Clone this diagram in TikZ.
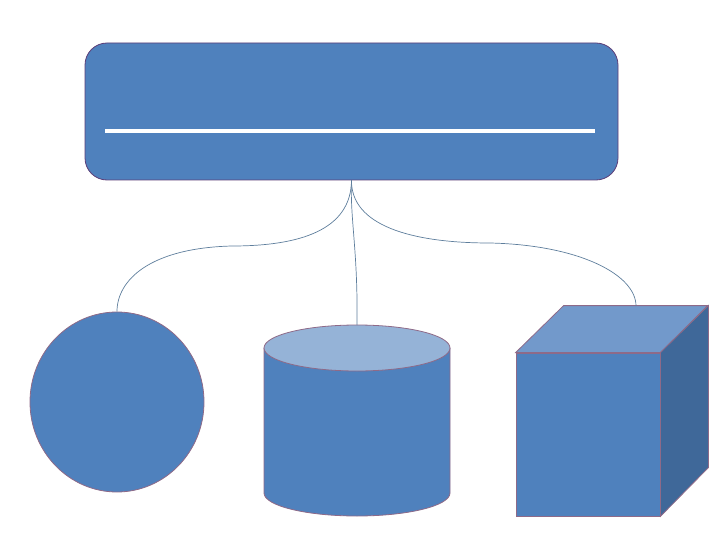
\documentclass[tikz,border=0pt]{standalone}
\usetikzlibrary{shapes.geometric}

\definecolor{boxblue}{HTML}{4F81BD}
\definecolor{lidblue}{HTML}{95B3D7}
\definecolor{topblue}{HTML}{7299CB}
\definecolor{sideblue}{HTML}{3F6899}
\definecolor{edgepink}{HTML}{8E6A88}
\definecolor{edgeplum}{HTML}{5C3D77}
\definecolor{wire}{HTML}{5E7E9C}

\begin{document}
\begin{tikzpicture}[x=1pt,y=-1pt,
  solid/.style={fill=boxblue,draw=edgepink,line width=.8pt},
  header/.style={solid,draw=edgeplum,rounded corners=22pt,inner sep=0pt},
  link/.style={draw=wire,line width=.7pt}]
  \useasboundingbox (0,0) rectangle (720,540);
  \node[header,minimum width=533,minimum height=137] (head) at (351.5,111.5) {};
  \draw[white,line width=3.5pt] (105,131) -- (595,131);

  \node[solid,ellipse,inner sep=0pt,minimum width=174,minimum height=180] (ball) at (117,402) {};

  \draw[solid] (264,348) -- (264,493) arc[start angle=180,end angle=0,x radius=93,y radius=23] -- (450,348);
  \draw[solid,fill=lidblue] (357,348) ellipse[x radius=93,y radius=23];
  \coordinate (drum) at (357,325);

  \node[solid,inner sep=0pt,minimum width=144,minimum height=163] (cube) at (588,434.5) {};
  \draw[solid,fill=topblue] (cube.north west) -- ++(48,-47) -- ++(144,0) -- (cube.north east) -- cycle;
  \draw[solid,fill=sideblue] (cube.north east) -- ++(48,-47) -- ++(0,162) -- (cube.south east) -- cycle;
  \coordinate (lid) at (636,306);

  \draw[link] (head.south) .. controls (351,230) and (300,246) .. (232,246) .. controls (150,248) and (117,280) .. (ball.north);
  \draw[link] (head.south) .. controls (350,220) and (358,250) .. (drum);
  \draw[link] (head.south) .. controls (351,225) and (410,243) .. (490,243) .. controls (580,245) and (636,275) .. (lid);
\end{tikzpicture}
\end{document}
